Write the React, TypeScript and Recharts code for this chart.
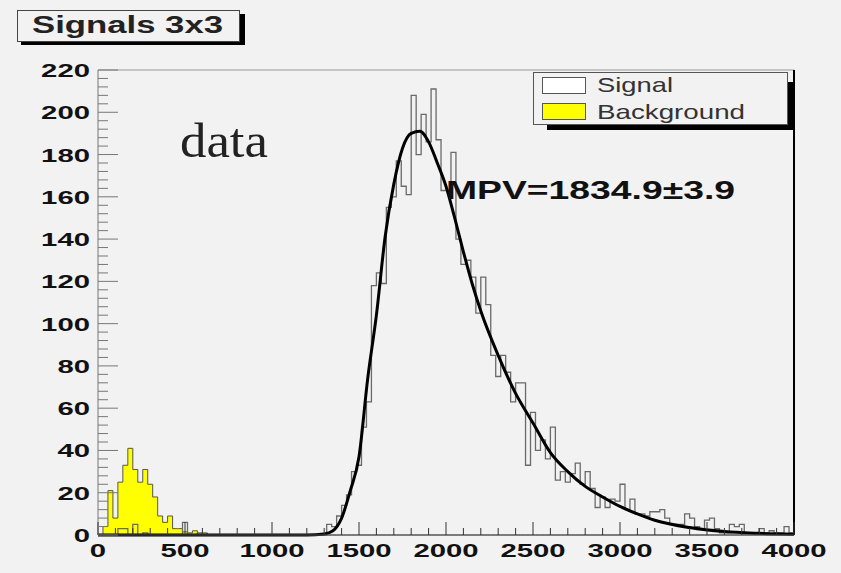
import { ComposedChart, Line, Area, XAxis, YAxis, ReferenceLine, Legend } from 'recharts'

// histogram binning: 140 bins over 0..4000
const BIN_COUNT = 140
const X_MAX = 4000
const BIN_WIDTH = X_MAX / BIN_COUNT

// signal counts per bin (bins 0..139)
const signalCounts = [
  0, 0, 0, 0, 3, 3, 0, 5, 0, 1,
  0, 0, 0, 0, 0, 0, 0, 6, 0, 0,
  1, 0, 0, 0, 0, 0, 0, 0, 0, 0,
  0, 0, 0, 0, 0, 0, 0, 0, 0, 0,
  0, 0, 0, 0, 0, 0, 5, 4, 9, 14,
  19, 30, 33, 51, 63, 118, 124, 119, 155, 160,
  177, 165, 161, 208, 180, 199, 186, 211, 187, 163,
  163, 181, 140, 128, 130, 122, 105, 122, 109, 85,
  75, 85, 77, 63, 72, 72, 33, 58, 40, 45,
  36, 51, 26, 30, 25, 29, 34, 24, 30, 22,
  13, 18, 13, 17, 16, 24, 12, 17, 10, 10,
  9, 11, 11, 12, 8, 5, 5, 5, 10, 8,
  4, 3, 7, 8, 3, 1, 1, 5, 4, 5,
  1, 1, 1, 3, 1, 2, 1, 1, 4, 1,
]

// background counts per bin (bins 0..21, empty after)
const backgroundCounts = [
  0, 4, 21, 8, 25, 33, 41, 31, 25, 31,
  24, 18, 9, 6, 9, 3, 3, 1.5, 1, 2,
  0, 1,
]

// fitted curve (Landau x Gauss)
const fitX = [0, 1200, 1300, 1350, 1400, 1450, 1500, 1550, 1600, 1650, 1700, 1750, 1800, 1850, 1900, 1950, 2000, 2050, 2100, 2150, 2200, 2300, 2400, 2500, 2600, 2700, 2800, 2900, 3000, 3100, 3200, 3400, 3600, 3800, 4000]
const fitY = [0, 0, 0.5, 2, 8, 21, 37, 74, 104, 141, 166, 183, 190, 191, 186, 176, 165, 150, 134, 119, 106, 85, 67, 53, 39, 30, 23, 18, 13.5, 10, 7, 3.5, 1.6, 0.8, 0.4]

const yLabels = [0, 20, 40, 60, 80, 100, 120, 140, 160, 180, 200, 220]
const xLabels = [0, 500, 1000, 1500, 2000, 2500, 3000, 3500, 4000]

const legendItems = [
  { label: 'Signal', fill: '#ffffff', textWidth: 76 },
  { label: 'Background', fill: '#ffff00', textWidth: 148 },
]

// minor ticks: 5 divisions per major step
const subdivide = (labels: number[]) => {
  const out: number[] = []
  for (let i = 0; i < labels.length - 1; i++) {
    const step = (labels[i + 1] - labels[i]) / 5
    for (let k = 0; k < 5; k++) out.push(labels[i] + k * step)
  }
  out.push(labels[labels.length - 1])
  return out
}
const yTicks = subdivide(yLabels)
const xTicks = subdivide(xLabels)

const histRows = Array.from({ length: BIN_COUNT + 1 }, (_, i) => {
  const b = Math.min(i, BIN_COUNT - 1)
  return { x: i * BIN_WIDTH, signal: signalCounts[b], background: backgroundCounts[b] ?? 0 }
})
const fitRows = fitX.map((x, i) => ({ x, fit: fitY[i] }))

const PLOT_LEFT = 98
const PLOT_BOTTOM = 535
const DIGIT_W = 16.3
const font = '"Liberation Sans", Arial, sans-serif'

const YTick = (props: any) => {
  const { y, payload } = props
  const v = payload.value
  const major = yLabels.includes(v)
  return (
    <g>
      <line x1={PLOT_LEFT} x2={PLOT_LEFT + (major ? 20 : 10)} y1={y} y2={y} stroke="#777" />
      {major && (
        <text x={90} y={y + 7} textAnchor="end" fontFamily={font} fontWeight="bold" fontSize={19} fill="#111"
          textLength={String(v).length * DIGIT_W} lengthAdjust="spacingAndGlyphs">{v}</text>
      )}
    </g>
  )
}

const XTick = (props: any) => {
  const { x, payload } = props
  const v = payload.value
  const major = xLabels.includes(v)
  return (
    <g>
      <line x1={x} x2={x} y1={PLOT_BOTTOM} y2={PLOT_BOTTOM - (major ? 13 : 7)} stroke="#333" />
      {major && (
        <text x={x} y={557} textAnchor="middle" fontFamily={font} fontWeight="bold" fontSize={19} fill="#111"
          textLength={String(v).length * DIGIT_W} lengthAdjust="spacingAndGlyphs">{v}</text>
      )}
    </g>
  )
}

const renderLegend = () => (
  <svg width={264} height={60} style={{ display: 'block' }}>
    <rect x={14} y={10} width={248} height={48} fill="#000" />
    <rect x={0.5} y={0.5} width={254} height={52} fill="#f2f2f2" stroke="#555" />
    {legendItems.map((it, i) => (
      <g key={it.label}>
        <rect x={9.5} y={5.5 + i * 26} width={43} height={16} fill={it.fill} stroke="#555" />
        <text x={64} y={20 + i * 26.5} fontFamily={font} fontSize={21} fill="#333"
          textLength={it.textWidth} lengthAdjust="spacingAndGlyphs">{it.label}</text>
      </g>
    ))}
  </svg>
)

export default function App() {
  return (
    <div style={{ position: 'absolute', left: 0, top: 0, width: 841, height: 573, background: '#f2f2f2' }}>
      <ComposedChart width={841} height={573} data={histRows} margin={{ top: 70, right: 47, bottom: 0, left: 0 }}>
        <XAxis dataKey="x" type="number" domain={[0, X_MAX]} ticks={xTicks} interval={0} tick={XTick}
          tickLine={false} axisLine={{ stroke: '#555' }} height={38} />
        <YAxis type="number" domain={[0, 220]} ticks={yTicks} interval={0} tick={YTick}
          tickLine={false} axisLine={{ stroke: '#777' }} width={98} />
        <ReferenceLine y={220} stroke="#999" />
        <ReferenceLine x={X_MAX} stroke="#000" strokeWidth={2} />
        <Area dataKey="background" type="stepAfter" fill="#ffff00" fillOpacity={1} stroke="#555" strokeWidth={1}
          isAnimationActive={false} dot={false} activeDot={false} />
        <Line dataKey="signal" type="stepAfter" stroke="#6a6a6a" strokeWidth={1.3}
          isAnimationActive={false} dot={false} activeDot={false} />
        <Line data={fitRows} dataKey="fit" type="monotone" stroke="#000" strokeWidth={3}
          isAnimationActive={false} dot={false} activeDot={false} />
        <Legend layout="vertical" align="center" verticalAlign="middle" content={renderLegend}
          wrapperStyle={{ left: 533, top: 72, width: 264, height: 60 }} />
      </ComposedChart>
      <svg width={841} height={573} style={{ position: 'absolute', left: 0, top: 0, pointerEvents: 'none' }}>
        <rect x={21} y={14} width={224} height={31} fill="#000" />
        <rect x={17.5} y={10.5} width={222} height={31} fill="#f2f2f2" stroke="#444" />
        <text x={32} y={33} fontFamily={font} fontWeight="bold" fontSize={23} fill="#222"
          textLength={191} lengthAdjust="spacingAndGlyphs">Signals 3x3</text>
        <text x={180} y={157} fontFamily='"Liberation Serif", "Times New Roman", serif' fontSize={48} fill="#222"
          textLength={88} lengthAdjust="spacingAndGlyphs">data</text>
        <text x={446} y={199} fontFamily={font} fontWeight="bold" fontSize={26} fill="#111"
          textLength={289} lengthAdjust="spacingAndGlyphs">MPV=1834.9±3.9</text>
      </svg>
    </div>
  )
}
